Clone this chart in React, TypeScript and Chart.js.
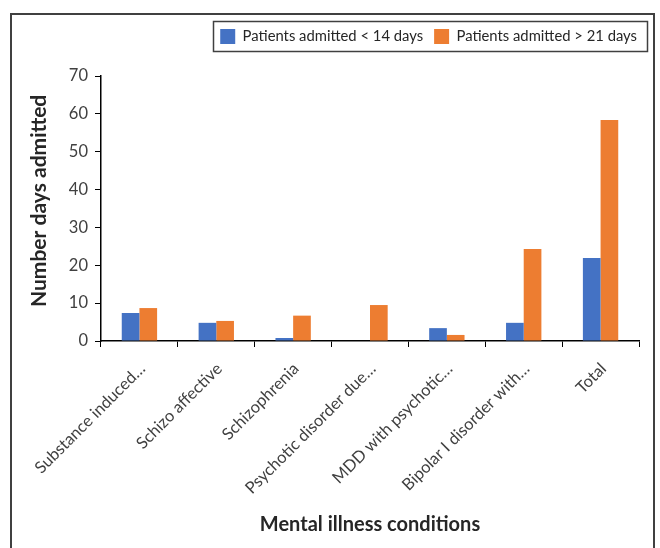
import React, { useEffect, useRef } from 'react';
import { Chart, registerables } from 'chart.js';
Chart.register(...registerables);

const categories = [
  'Substance induced…',
  'Schizo affective',
  'Schizophrenia',
  'Psychotic disorder due…',
  'MDD with psychotic…',
  'Bipolar I disorder with…',
  'Total',
];
const under14Days = [7.4, 4.8, 0.8, 0, 3.4, 4.8, 21.9];
const over21Days = [8.7, 5.3, 6.7, 9.5, 1.6, 24.3, 58.4];
const seriesNames = ['Patients admitted < 14 days', 'Patients admitted > 21 days'];
const yTickValues = [0, 10, 20, 30, 40, 50, 60, 70];

const FONT = 'Lato';

const legendBoxPlugin = {
  id: 'legendBox',
  beforeInit(chart: any) {
    const legend = chart.legend;
    if (legend) {
      const orig = legend.fit;
      legend.fit = function () {
        orig.call(this);
        this.height = 58;
      };
    }
  },
  afterLayout(chart: any) {
    const legend = chart.legend;
    if (legend) {
      legend.left += 9;
      legend.right += 9;
    }
  },
  afterDraw(chart: any) {
    const legend = chart.legend;
    if (!legend || !legend.lineWidths) return;
    const pad = legend.options.labels.padding;
    const start = legend.right - legend.lineWidths[0];
    const end = legend.right - pad;
    const ctx = chart.ctx;
    ctx.save();
    ctx.strokeStyle = '#404040';
    ctx.lineWidth = 1.5;
    ctx.strokeRect(Math.round(start - 7) + 0.5, 6.5, Math.round(end - start + 17), 30);
    ctx.restore();
  },
};

export default function App() {
  const ref = useRef<HTMLCanvasElement>(null);
  useEffect(() => {
    if (!ref.current) return;
    const chart = new Chart(ref.current, {
      type: 'bar',
      data: {
        labels: categories,
        datasets: [
          { label: seriesNames[0], data: under14Days, backgroundColor: '#4472C4', borderWidth: 0 },
          { label: seriesNames[1], data: over21Days, backgroundColor: '#ED7D31', borderWidth: 0 },
        ],
      },
      options: {
        animation: false,
        responsive: false,
        layout: { padding: { left: 0, right: 14, top: 3, bottom: 0 } },
        datasets: { bar: { categoryPercentage: 0.46, barPercentage: 1 } },
        plugins: {
          legend: {
            position: 'top',
            align: 'end',
            labels: {
              boxWidth: 15,
              boxHeight: 15,
              padding: 11,
              color: '#262626',
              font: { family: FONT, size: 14.8 },
            },
          },
          tooltip: { enabled: false },
        },
        scales: {
          x: {
            grid: { drawOnChartArea: false, drawTicks: true, tickLength: 6, color: '#000', offset: true },
            border: { display: true, color: '#000', width: 1.5 },
            ticks: {
              minRotation: 45,
              maxRotation: 45,
              padding: 12,
              labelOffset: 3,
              color: '#404040',
              font: { family: FONT, size: 16.5 },
            },
            title: {
              display: true,
              text: 'Mental illness conditions',
              color: '#262626',
              font: { family: FONT, size: 20, weight: 'bold' },
              padding: { top: 0, bottom: 11 },
            },
            afterFit(scale: any) {
              scale.height = 207;
            },
          },
          y: {
            min: 0,
            max: 70,
            afterBuildTicks(scale: any) {
              scale.ticks = yTickValues.map((v) => ({ value: v }));
            },
            grid: { drawOnChartArea: false, drawTicks: true, tickLength: 6, color: '#000' },
            border: { display: true, color: '#000', width: 1.5 },
            ticks: {
              padding: 7,
              color: '#404040',
              font: { family: FONT, size: 16.5 },
            },
            title: {
              display: true,
              text: '   Number days admitted',
              color: '#262626',
              font: { family: FONT, size: 21, weight: 'bold' },
              padding: { top: 15, bottom: 0 },
            },
            afterFit(scale: any) {
              scale.width = 89;
            },
          },
        },
      },
      plugins: [legendBoxPlugin],
    });
    return () => chart.destroy();
  }, []);
  return (
    <div
      style={{
        position: 'absolute',
        left: 10,
        top: 13,
        width: 645,
        height: 535,
        boxSizing: 'border-box',
        border: '2px solid #404040',
        borderBottom: 'none',
        background: '#fff',
      }}
    >
      <canvas ref={ref} width={641} height={533} style={{ display: 'block', width: 641, height: 533 }} />
    </div>
  );
}
